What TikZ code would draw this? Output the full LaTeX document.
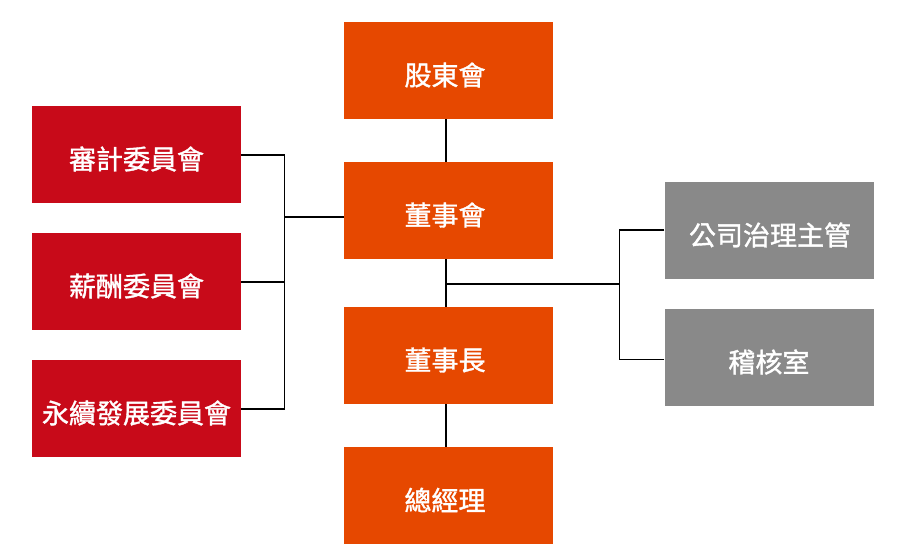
\documentclass[tikz,border=0pt]{standalone}
\usepackage{fontspec}
\newfontfamily\cjk[FakeBold=1.3]{Noto Sans CJK TC}
\definecolor{orgbox}{HTML}{E64800}
\definecolor{redbox}{HTML}{C80A19}
\definecolor{graybox}{HTML}{898989}
\begin{document}
\begin{tikzpicture}[x=1pt,y=-1pt,
  box/.style={minimum width=209pt,minimum height=97pt,inner sep=0pt},
  obox/.style={box,fill=orgbox},
  rbox/.style={box,fill=redbox},
  gbox/.style={box,fill=graybox},
  lbl/.style={text=white,font=\cjk\fontsize{27}{30}\selectfont,inner sep=0pt},
  link/.style={draw=black,line width=1.4pt}]
\useasboundingbox (0,0) rectangle (900,559);
\node[obox] (gd) at (448.5,70.5) {};
\node[obox] (bd) at (448.5,210.5) {};
\node[obox] (ch) at (448.5,355.5) {};
\node[obox] (gm) at (448.5,495.5) {};
\node[rbox] (au) at (136.5,154.5) {};
\node[rbox] (rm) at (136.5,281.5) {};
\node[rbox] (sd) at (136.5,408.5) {};
\node[gbox] (cg) at (769,230.5) {};
\node[gbox] (ia) at (769,357.5) {};
\node[lbl] at ([xshift=-3.5pt,yshift=-4.5pt]gd.center) {股東會};
\node[lbl] at ([xshift=-3.5pt,yshift=-4.5pt]bd.center) {董事會};
\node[lbl] at ([xshift=-3.5pt,yshift=-4.5pt]ch.center) {董事長};
\node[lbl] at ([xshift=-3.5pt,yshift=-4.5pt]gm.center) {總經理};
\node[lbl] at ([yshift=-4.5pt]au.center) {審計委員會};
\node[lbl] at ([yshift=-4.5pt]rm.center) {薪酬委員會};
\node[lbl] at ([yshift=-4.5pt]sd.center) {永續發展委員會};
\node[lbl] at ([xshift=1pt,yshift=-4.5pt]cg.center) {公司治理主管};
\node[lbl] at ([yshift=-4.5pt]ia.center) {稽核室};
\coordinate (lj) at (284.5,217);
\coordinate (rj) at (446,284);
\coordinate (rv) at (619.5,284);
\draw[link] (446,0 |- gd.south) -- (446,0 |- bd.north);
\draw[link] (446,0 |- ch.south) -- (446,0 |- gm.north);
\draw[link] (446,0 |- bd.south) -- (446,0 |- ch.north);
\draw[link] (au.east |- 0,155) -| (lj);
\draw[link] (sd.east |- 0,409) -| (lj);
\draw[link] (rm.east |- 0,282) -- (lj |- 0,282);
\draw[link] (lj) -- (bd.west |- lj);
\draw[link] (rj) -- (rv);
\draw[link] (cg.west |- 0,230) -| (rv);
\draw[link] (ia.west |- 0,359.5) -| (rv);
\end{tikzpicture}
\end{document}
